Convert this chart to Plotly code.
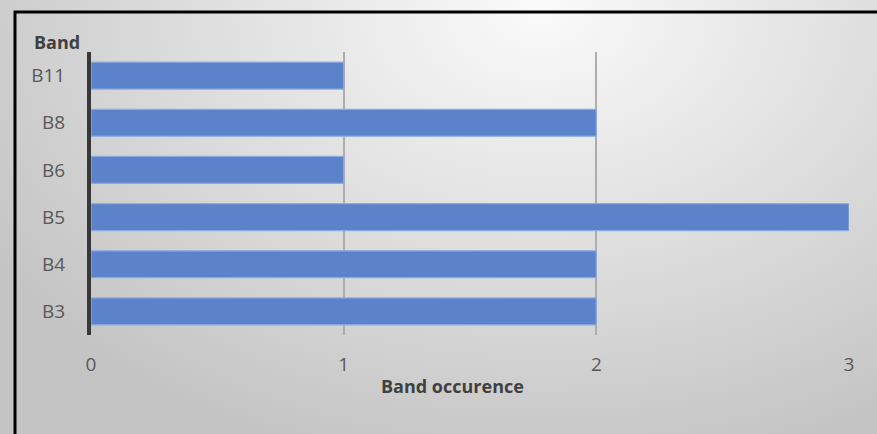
import plotly.graph_objects as go

bands = ["B3", "B4", "B5", "B6", "B8", "B11"]
occurrence = [2, 2, 3, 1, 2, 1]
x_ticks = [0, 1, 2, 3]
x_title = "Band occurence"
y_title = "Band"

W, H = 877, 434
ML, MR, MT, MB = 91, 28, 52, 99
pw, ph = W - ML - MR, H - MT - MB  # plot area size in px

svg = (
    "data:image/svg+xml;utf8,"
    "<svg xmlns='http://www.w3.org/2000/svg' width='877' height='434' viewBox='0 0 877 434' preserveAspectRatio='none'>"
    "<defs><radialGradient id='g' cx='540' cy='10' r='650' gradientUnits='userSpaceOnUse' "
    "gradientTransform='translate(540,10) scale(1,0.72) translate(-540,-10)'>"
    "<stop offset='0' stop-color='%23fafafa'/>"
    "<stop offset='1' stop-color='%23c4c4c4'/>"
    "</radialGradient></defs>"
    "<rect width='877' height='434' fill='url(%23g)'/></svg>"
)

fig = go.Figure()
fig.add_trace(go.Bar(
    y=bands, x=occurrence, orientation="h",
    marker=dict(color="#5b82cb", line=dict(color="#8aabe2", width=1.2)),
))

fig.update_layout(
    width=W, height=H,
    margin=dict(l=ML, r=MR, t=MT, b=MB),
    paper_bgcolor="white",
    plot_bgcolor="rgba(0,0,0,0)",
    bargap=0.43,
    showlegend=False,
    font=dict(family="Open Sans", color="#595959", size=19),
    xaxis=dict(
        range=[0, 3], tickvals=x_ticks, showgrid=True, gridcolor="#adadad", gridwidth=2,
        zeroline=False, showline=False, ticks="", ticklabelstandoff=16,
        tickfont=dict(size=19, color="#595959"),
    ),
    yaxis=dict(
        showline=True, linecolor="#383838", linewidth=4, showgrid=False,
        ticks="", ticklabelstandoff=18, tickfont=dict(size=19, color="#595959"),
    ),
    images=[dict(source=svg, xref="paper", yref="paper", x=-ML/pw, y=1+MT/ph,
                 sizex=W/pw, sizey=H/ph, xanchor="left", yanchor="top",
                 sizing="stretch", layer="below")],
    shapes=[dict(type="rect", xref="paper", yref="paper",
                 x0=-(ML-15)/pw, x1=1+120/pw, y0=-200/ph, y1=1+(MT-12)/ph,
                 line=dict(color="black", width=3), fillcolor="rgba(0,0,0,0)")],
    annotations=[
        dict(text="<b>" + x_title + "</b>", xref="paper", yref="paper",
             x=(452-ML)/pw, y=-(386-(H-MB))/ph, showarrow=False,
             font=dict(size=18, color="#404040"), xanchor="center", yanchor="middle"),
        dict(text="<b>" + y_title + "</b>", xref="paper", yref="paper",
             x=-(ML-32)/pw, y=1+(MT-42)/ph, showarrow=False,
             font=dict(size=18, color="#404040"), xanchor="left", yanchor="middle"),
    ],
)

fig.write_html("out.html")
